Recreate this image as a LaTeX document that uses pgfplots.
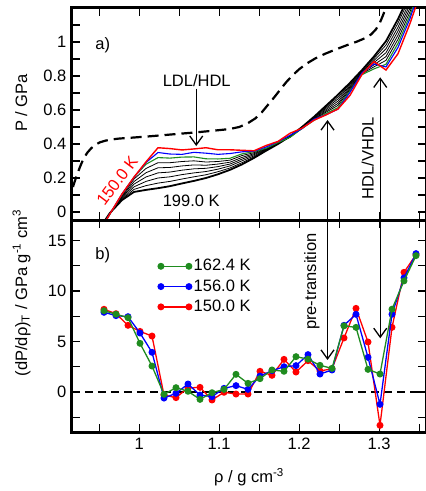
\documentclass[border=0pt]{standalone}
\usepackage{fontspec}
\setmainfont{Liberation Sans}
\usepackage{pgfplots}
\usepackage{pgfplotstable}
\pgfplotsset{compat=1.18}
\usetikzlibrary{arrows.meta}

\definecolor{cred}{rgb}{1,0,0}
\definecolor{cblue}{rgb}{0,0,1}
\definecolor{cgreen}{rgb}{0.12,0.55,0.12}

\pgfplotstableread{
rho    T150   T156   T162   T168   T174   T180   T186   T192   T199
0.9485 -0.130 -0.130 -0.130 -0.127 -0.123 -0.120 -0.117 -0.113 -0.110
0.9635 -0.010 -0.010 -0.012 -0.011 -0.010 -0.009 -0.007 -0.006 -0.005
0.9785  0.106  0.106  0.104  0.095  0.090  0.085  0.080  0.075  0.070
0.9935  0.205  0.204  0.205  0.194  0.179  0.164  0.148  0.133  0.118
1.0085  0.295  0.291  0.281  0.256  0.231  0.206  0.180  0.155  0.130
1.0235  0.378  0.350  0.320  0.290  0.260  0.230  0.200  0.170  0.140
1.0385  0.373  0.341  0.317  0.290  0.262  0.235  0.207  0.180  0.152
1.0535  0.365  0.339  0.323  0.297  0.271  0.246  0.220  0.194  0.168
1.0685  0.371  0.351  0.324  0.301  0.277  0.254  0.230  0.207  0.183
1.0835  0.378  0.346  0.313  0.294  0.275  0.257  0.238  0.219  0.200
1.0985  0.366  0.339  0.312  0.297  0.282  0.267  0.252  0.237  0.222
1.1135  0.366  0.344  0.316  0.305  0.293  0.282  0.271  0.259  0.248
1.1285  0.363  0.354  0.342  0.332  0.321  0.311  0.301  0.290  0.280
1.1435  0.360  0.358  0.355  0.349  0.343  0.337  0.330  0.324  0.318
1.1585  0.391  0.382  0.375  0.373  0.370  0.368  0.365  0.363  0.360
1.1735  0.415  0.414  0.408  0.407  0.405  0.404  0.403  0.401  0.400
1.1885  0.463  0.451  0.439  0.440  0.441  0.442  0.443  0.444  0.445
1.2035  0.493  0.490  0.491  0.493  0.494  0.496  0.497  0.499  0.500
1.2185  0.540  0.546  0.539  0.543  0.546  0.550  0.553  0.557  0.560
1.2335  0.571  0.572  0.579  0.587  0.594  0.602  0.610  0.617  0.625
1.2485  0.606  0.605  0.614  0.627  0.639  0.652  0.665  0.677  0.690
1.2635  0.686  0.704  0.712  0.720  0.728  0.736  0.744  0.752  0.760
1.2785  0.810  0.819  0.808  0.813  0.817  0.822  0.826  0.831  0.835
1.2935  0.885  0.871  0.842  0.854  0.866  0.879  0.891  0.903  0.915
1.3085  0.835  0.853  0.869  0.892  0.914  0.937  0.960  0.982  1.005
1.3235  0.931  0.968  0.992  1.016  1.040  1.064  1.087  1.111  1.135
1.3385  1.109  1.138  1.157  1.178  1.200  1.221  1.242  1.264  1.285
1.3535  1.313  1.343  1.360  1.370  1.380  1.390  1.400  1.410  1.420
}\isotherms

\pgfplotstableread{
rho    P
0.912  0.05
0.915  0.11
0.918  0.16
0.922  0.215
0.926  0.265
0.930  0.31
0.935  0.348
0.940  0.375
0.945  0.395
0.951  0.41
0.958  0.420
0.966  0.427
0.975  0.432
0.990  0.437
1.010  0.444
1.030  0.452
1.050  0.460
1.070  0.468
1.090  0.477
1.105  0.484
1.115  0.490
1.125  0.500
1.135  0.520
1.145  0.550
1.153  0.585
1.160  0.625
1.168  0.670
1.176  0.718
1.184  0.765
1.192  0.805
1.200  0.840
1.210  0.875
1.220  0.903
1.232  0.930
1.245  0.955
1.260  0.982
1.272  1.002
1.282  1.022
1.290  1.045
1.296  1.075
1.301  1.115
1.305  1.160
1.309  1.210
1.312  1.250
}\dashedref

\pgfplotstableread{
rho    D150   D156   D162
0.956  8.19   7.89   8.05
0.971  7.75   7.56   7.70
0.986  6.60   7.46   7.36
1.001  6.00   5.84   4.82
1.016  5.54   3.93   2.57
1.031 -0.30  -0.60  -0.23
1.046 -0.56  -0.13   0.43
1.061  0.40   0.79   0.07
1.076  0.46  -0.30  -0.73
1.091 -0.79  -0.46  -0.07
1.106 -0.03   0.36   0.26
1.121 -0.20   0.63   1.75
1.136 -0.20   0.26   0.86
1.151  2.05   1.58   1.32
1.166  1.65   2.11   2.18
1.181  3.23   2.50   2.05
1.196  1.98   2.61   3.50
1.211  3.10   3.70   3.25
1.226  2.08   1.78   2.64
1.241  2.30   2.18   2.34
1.256  5.35   6.60   6.55
1.271  8.28   7.69   6.40
1.286  4.95   3.43   2.24
1.301 -3.30  -1.22   1.78
1.316  6.40   7.70   8.20
1.331 11.85  11.30  11.00
1.346 13.60  13.70  13.50
}\derivs

\pgfplotsset{
  myaxis/.style={
    scale only axis, width=354.4pt,
    xmin=0.916, xmax=1.359,
    axis line style={line width=3pt},
    tick style={line width=1.1pt, black},
    major tick length=8pt, minor tick length=8pt,
    tick align=inside,
    xtick={1,1.1,1.2,1.3}, minor xtick={0.95,1.05,1.15,1.25,1.35},
    /pgf/number format/assume math mode=true,
    ticklabel style={font=\fontsize{16.5}{19.8}\selectfont},
    clip mode=individual,
  },
  blk/.style={black, line width=0.8pt},
}

\begin{document}
\fontsize{16.5}{19.8}\selectfont
\begin{tikzpicture}
% ---------- top panel ----------
\begin{axis}[myaxis, at={(72pt,270.5pt)}, anchor=south west, height=212.5pt,
  ymin=-0.05, ymax=1.2,
  ytick={0,0.2,0.4,0.6,0.8,1}, minor ytick={0.1,0.3,0.5,0.7,0.9,1.1},
  xticklabels={}]
\addplot[black, line width=2.2pt, dash pattern=on 11pt off 6pt, line join=round] table[x=rho,y=P] {\dashedref};
\addplot[blk] table[x=rho,y=T168] {\isotherms};
\addplot[blk] table[x=rho,y=T174] {\isotherms};
\addplot[blk] table[x=rho,y=T180] {\isotherms};
\addplot[blk] table[x=rho,y=T186] {\isotherms};
\addplot[blk] table[x=rho,y=T192] {\isotherms};
\addplot[black, line width=1.8pt] table[x=rho,y=T199] {\isotherms};
\addplot[cgreen, line width=1.1pt] table[x=rho,y=T162] {\isotherms};
\addplot[cblue, line width=1.1pt] table[x=rho,y=T156] {\isotherms};
\addplot[cred, line width=1.4pt] table[x=rho,y=T150] {\isotherms};
\node[anchor=base west, inner sep=0pt] at (axis cs:0.945,0.956) {a)};
\node[anchor=base, inner sep=0pt] at (axis cs:1.0719,0.741) {LDL/HDL};
\draw[line width=1.3pt, -{Straight Barb[length=9pt,width=13pt]}] (axis cs:1.0713,0.725) -- (axis cs:1.0713,0.388);
\node[anchor=base, inner sep=0pt] at (axis cs:1.065,0.031) {199.0 K};
\node[cred, rotate=53, inner sep=0pt] at (axis cs:0.9725,0.185) {150.0 K};
\node[anchor=base, rotate=90, inner sep=0pt] at (axis cs:1.293,0.316) {HDL/VHDL};
\coordinate (pt1) at (axis cs:1.2354,0.541);
\coordinate (pt2) at (axis cs:1.3013,0.792);
\end{axis}
% ---------- bottom panel ----------
\begin{axis}[myaxis, at={(72pt,58.6pt)}, anchor=south west, height=212.1pt,
  ymin=-4, ymax=17,
  ytick={0,5,10,15}, minor ytick={-2.5,2.5,7.5,12.5},
  legend style={draw=none, fill=none, at={(axis description cs:0.234,0.836)}, anchor=north west,
    font=\fontsize{16.5}{19.8}\selectfont, row sep=2.3pt},
  legend cell align=left, reverse legend,
  legend image code/.code={\draw[#1] plot coordinates {(0pt,0pt) (28pt,0pt)};}]
\addplot[forget plot, black, line width=1.1pt, dash pattern=on 8pt off 5pt] coordinates {(0.916,0) (1.359,0)};
\addplot[cred, line width=1.3pt, mark=*, mark size=2.8pt, mark options={fill=cred, draw=cred}] table[x=rho,y=D150] {\derivs};
\addlegendentry{150.0 K}
\addplot[cblue, line width=1.3pt, mark=*, mark size=2.8pt, mark options={fill=cblue, draw=cblue}] table[x=rho,y=D156] {\derivs};
\addlegendentry{156.0 K}
\addplot[cgreen, line width=1.3pt, mark=*, mark size=2.8pt, mark options={fill=cgreen, draw=cgreen}] table[x=rho,y=D162] {\derivs};
\addlegendentry{162.4 K}
\node[anchor=base west, inner sep=0pt] at (axis cs:0.945,13.07) {b)};
\node[anchor=base, rotate=90, inner sep=0pt] at (axis cs:1.2213,10.92) {pre-transition};
\coordinate (pb1) at (axis cs:1.2354,3.17);
\coordinate (pb2) at (axis cs:1.3013,5.32);
\end{axis}
% arrows spanning both panels
\draw[line width=1.3pt, {Straight Barb[length=9pt,width=13pt]}-{Straight Barb[length=9pt,width=13pt]}] (pt1) -- (pb1);
\draw[line width=1.3pt, {Straight Barb[length=9pt,width=13pt]}-{Straight Barb[length=9pt,width=13pt]}] (pt2) -- (pb2);
% axis labels
\node[rotate=90, anchor=base, inner sep=0pt] at (27pt,388pt) {P / GPa};
\node[rotate=90, anchor=base, inner sep=0pt] at (27pt,198pt) {(dP/dρ)\textsubscript{T} / GPa g\textsuperscript{-1} cm\textsuperscript{3}};
\node[anchor=base, inner sep=0pt] at (249pt,8.3pt) {ρ / g cm\textsuperscript{-3}};
\pgfresetboundingbox
\useasboundingbox (0pt,0pt) rectangle (426pt,491pt);
\end{tikzpicture}
\end{document}
